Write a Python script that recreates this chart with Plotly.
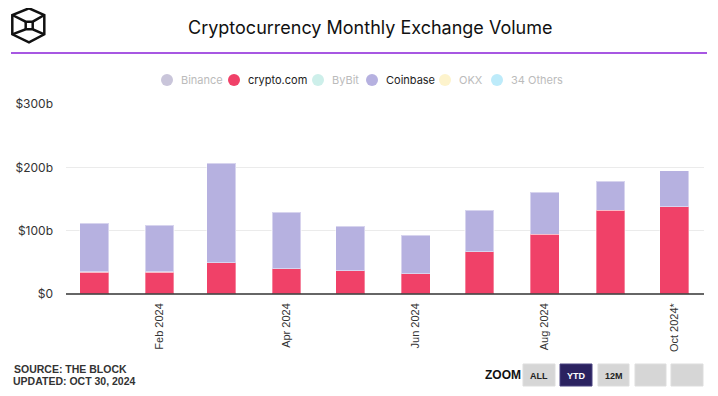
import plotly.graph_objects as go

# ---- data ----
months = ["2024-01-01", "2024-02-01", "2024-03-01", "2024-04-01", "2024-05-01",
          "2024-06-01", "2024-07-01", "2024-08-01", "2024-09-01", "2024-10-01"]
crypto_com = [35, 35, 49.5, 40, 37, 32, 67, 94, 132, 138]
coinbase = [77, 73.5, 157, 89, 70, 61, 65, 67, 46, 57]
tick_vals = ["2024-02-01", "2024-04-01", "2024-06-01", "2024-08-01", "2024-10-01"]
tick_text = ["Feb 2024", "Apr 2024", "Jun 2024", "Aug 2024", "Oct 2024*"]
y_ticks = [0, 100, 200, 300]
y_labels = ["$0", "$100b", "$200b", "$300b"]
legend_names = ["Binance", "crypto.com", "ByBit", "Coinbase", "OKX", "34 Others"]
legend_active = [False, True, False, True, False, False]
legend_colors = ["#C9C5DA", "#F04168", "#CDEFEA", "#B6B1E0", "#FDF3CC", "#BDEBFA"]

RED = "#F04168"
PURPLE = "#B6B1E0"

OFF = 8  # page body margin
W, H = 710, 388
L, R, T, B = 58, 14, 96, 102
PW, PH = W - L - R, H - T - B


def PX(x):
    return (x - OFF - L) / PW


def PY(y):
    return (H - B - (y - OFF)) / PH


bar_w = 13.7 * 86400000

fig = go.Figure()
fig.add_trace(go.Bar(x=months, y=crypto_com, name="crypto.com", marker_color=RED,
                     marker_line=dict(color="rgba(255,255,255,0.35)", width=1.5),
                     width=bar_w, showlegend=False))
fig.add_trace(go.Bar(x=months, y=coinbase, name="Coinbase", marker_color=PURPLE,
                     marker_line=dict(color="rgba(255,255,255,0.45)", width=1.5),
                     width=bar_w, showlegend=False))

shapes = []
annotations = []

# title
annotations.append(dict(text="Cryptocurrency Monthly Exchange Volume", xref="paper", yref="paper",
                        x=PX(370), y=PY(27), xanchor="center", yanchor="middle", showarrow=False,
                        font=dict(family="Inter", size=18, color="#111111", weight=400)))

# logo
def seg(pts):
    return "M " + " L ".join(f"{PX(a):.5f},{PY(b):.5f}" for a, b in pts)

logo_line = dict(color="#111111", width=2.5)
hexpts = [(29, 8.3), (44.3, 15), (44.3, 34.3), (29, 42.3), (12.3, 34.3), (12.3, 15), (29, 8.3)]
shapes.append(dict(type="path", xref="paper", yref="paper", path=seg(hexpts) + " Z", line=logo_line))
shapes.append(dict(type="path", xref="paper", yref="paper",
                   path=seg([(12.3, 15), (25.7, 21.7), (32.7, 21.7), (44.3, 15)]), line=logo_line))
shapes.append(dict(type="path", xref="paper", yref="paper",
                   path=seg([(12.3, 34.3), (25.7, 29.3), (32.7, 29.3), (44.3, 34.3)]), line=logo_line))
shapes.append(dict(type="path", xref="paper", yref="paper",
                   path=seg([(25.7, 21.7), (25.7, 29.3)]), line=logo_line))
shapes.append(dict(type="path", xref="paper", yref="paper",
                   path=seg([(32.7, 21.7), (32.7, 29.3)]), line=logo_line))

# purple rule
shapes.append(dict(type="line", xref="paper", yref="paper", x0=PX(11), x1=PX(707),
                   y0=PY(53), y1=PY(53), line=dict(color="#8A1FD8", width=1.5)))

# legend (manual, circle markers)
legend_x = [167, 234, 318, 372, 445, 497]
for name, active, col, cx in zip(legend_names, legend_active, legend_colors, legend_x):
    r = 6
    shapes.append(dict(type="circle", xref="paper", yref="paper",
                       x0=PX(cx - r), x1=PX(cx + r), y0=PY(80 + r), y1=PY(80 - r),
                       fillcolor=col, line=dict(width=0)))
    annotations.append(dict(text=name, xref="paper", yref="paper", x=PX(cx + 12), y=PY(80.5),
                            xanchor="left", yanchor="middle", showarrow=False,
                            font=dict(family="Inter", size=11,
                                      color="#222222" if active else "#BBBBBB")))

# x axis baseline
shapes.append(dict(type="line", xref="paper", yref="paper", x0=0, x1=1, y0=0, y1=0,
                   line=dict(color="#333333", width=1.5), layer="above"))

# footer
annotations.append(dict(text="<b>SOURCE: THE BLOCK</b>", xref="paper", yref="paper",
                        x=PX(12), y=PY(369), xanchor="left", yanchor="middle", showarrow=False,
                        font=dict(family="Liberation Sans", size=10.5, color="#333333")))
annotations.append(dict(text="<b>UPDATED: OCT 30, 2024</b>", xref="paper", yref="paper",
                        x=PX(11), y=PY(381), xanchor="left", yanchor="middle", showarrow=False,
                        font=dict(family="Liberation Sans", size=10.5, color="#333333")))
annotations.append(dict(text="<b>ZOOM</b>", xref="paper", yref="paper",
                        x=PX(483), y=PY(375), xanchor="left", yanchor="middle", showarrow=False,
                        font=dict(family="Liberation Sans", size=12, color="#111111")))

buttons = [(523, 555, "ALL", False), (560, 592, "YTD", True), (598, 629, "12M", False),
           (635, 666, "", False), (671, 703, "", False)]
for x0, x1, label, sel in buttons:
    shapes.append(dict(type="rect", xref="paper", yref="paper",
                       x0=PX(x0), x1=PX(x1), y0=PY(386), y1=PY(364),
                       fillcolor="#2B2260" if sel else "#D6D6D6",
                       line=dict(color="#4A4280" if sel else "#DDDDDD", width=1)))
    if label:
        annotations.append(dict(text=f"<b>{label}</b>", xref="paper", yref="paper",
                                x=PX((x0 + x1) / 2), y=PY(376), xanchor="center", yanchor="middle",
                                showarrow=False,
                                font=dict(family="Liberation Sans", size=9,
                                          color="#FFFFFF" if sel else "#222222")))

fig.update_layout(
    width=W, height=H,
    margin=dict(l=L, r=R, t=T, b=B, autoexpand=False),
    barmode="stack",
    paper_bgcolor="white", plot_bgcolor="white",
    showlegend=False,
    shapes=shapes, annotations=annotations,
    xaxis=dict(type="date", range=["2023-12-18 18:00", "2024-10-15 04:00"],
               tickmode="array", tickvals=tick_vals, ticktext=tick_text, tickangle=-90,
               ticks="", showgrid=False, showline=False, zeroline=False,
               ticklabelstandoff=6,
               tickfont=dict(family="Liberation Sans", size=11, color="#333333")),
    yaxis=dict(range=[0, 300], tickmode="array", tickvals=y_ticks, ticktext=y_labels,
               showgrid=True, gridcolor="#EBEBEB", gridwidth=1, zeroline=False, showline=False,
               ticks="", ticklabelstandoff=12,
               tickfont=dict(family="Inter", size=12, color="#333333")),
)

fig.write_html("out.html")
